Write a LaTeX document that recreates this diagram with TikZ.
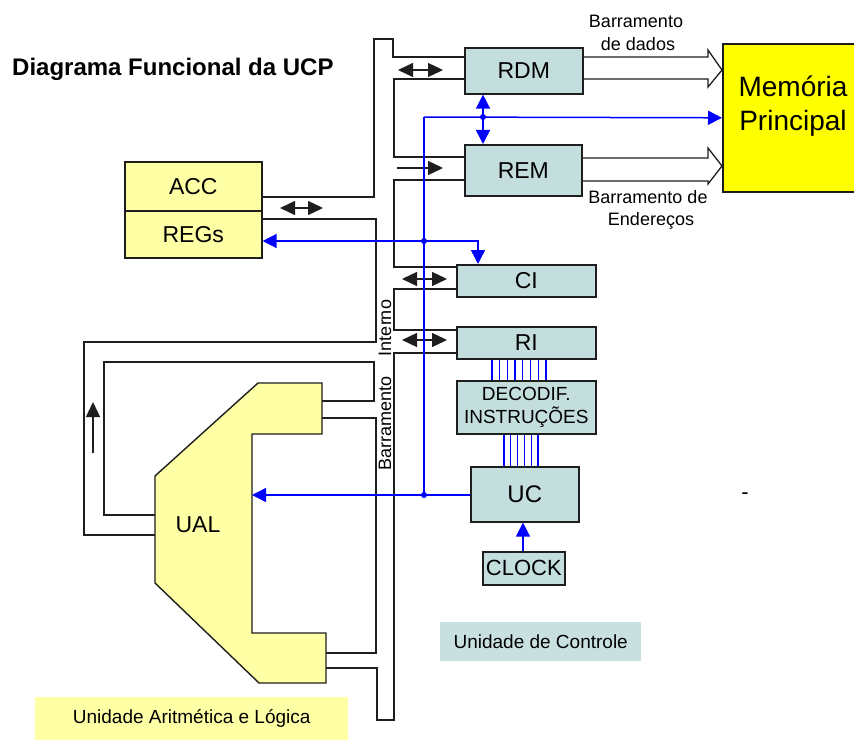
\documentclass[tikz,border=0pt]{standalone}
\usepackage{fontspec}
\setmainfont{Liberation Sans}
\usetikzlibrary{arrows.meta}
\definecolor{regfill}{RGB}{196,222,222}
\definecolor{ylw}{RGB}{255,255,166}
\definecolor{lblue}{RGB}{200,224,224}
\definecolor{memy}{RGB}{255,255,0}
\definecolor{ln}{RGB}{30,30,30}
\newcommand{\fsz}[1]{\fontsize{#1}{#1}\selectfont}
\begin{document}
\begin{tikzpicture}[x=1pt,y=-1pt,
  reg/.style={draw=ln, line width=1.6pt, fill=regfill, inner sep=0pt, anchor=north west, font=\fsz{23}},
  pipe/.style={draw=ln, line width=1.3pt, line join=miter},
  bl/.style={draw=blue, line width=1.5pt},
  blarrow/.style={bl, -{Triangle[length=14pt,width=14pt]}},
  bldouble/.style={bl, {Triangle[length=14pt,width=14pt]}-{Triangle[length=14pt,width=14pt]}},
  bkarrow/.style={draw=ln, line width=1.3pt, -{Triangle[length=15pt,width=14pt]}},
  bkdouble/.style={draw=ln, line width=1.3pt, {Triangle[length=15pt,width=14pt]}-{Triangle[length=15pt,width=14pt]}},
  lbl/.style={inner sep=0pt, font=\fsz{18}},
  dot/.style={fill=blue}
]
\path[use as bounding box] (0,0) rectangle (854,741);
\clip (0,0) rectangle (854,741);
\fill[white] (0,0) rectangle (854,741);

% title
\node[font=\fsz{24}\bfseries, anchor=west, inner sep=0pt] (title) at (12,69) {Diagrama Funcional da UCP};

% label boxes
\node[fill=ylw, minimum width=313pt, minimum height=43pt, anchor=north west, inner sep=0pt, font=\fsz{19}] (lblual) at (35,697) {Unidade Aritmética e Lógica};
\node[fill=lblue, minimum width=201pt, minimum height=39pt, anchor=north west, inner sep=0pt, font=\fsz{19}] (lbluc) at (440,622) {Unidade de Controle};

% internal bus pipes
\draw[pipe] (261,197) -- (374,197) -- (374,39) -- (393,39) -- (393,57) -- (464,57);
\draw[pipe] (464,79) -- (394,79) -- (394,157) -- (464,157);
\draw[pipe] (464,180) -- (394,180) -- (394,267) -- (456,267);
\draw[pipe] (456,289) -- (394,289) -- (394,330) -- (456,330);
\draw[pipe] (456,353) -- (394,353) -- (394,720) -- (377,720) -- (377,668) -- (326,668);
\draw[pipe] (326,653) -- (376,653) -- (376,418) -- (322,418);
\draw[pipe] (322,401) -- (374,401) -- (374,362) -- (104,362) -- (104,515) -- (155,515);
\draw[pipe] (155,535) -- (84,535) -- (84,342) -- (376,342) -- (376,219) -- (261,219);

% external buses
\draw[pipe] (582,57) -- (708,57) -- (708,50) -- (722,70) -- (708,87) -- (708,79) -- (582,79);
\draw[pipe] (581,158) -- (708,158) -- (708,148) -- (722,166) -- (708,184) -- (708,181) -- (581,181);

% memory
\node[draw=ln, line width=1.6pt, fill=memy, minimum width=150pt, minimum height=148pt, anchor=north west, inner sep=0pt] (mem) at (722,43) {};
\node[font=\fontsize{28}{34}\selectfont, align=center, inner sep=0pt] (memtxt) at (793,106) {Memória\\Principal};

% bus labels
\node[lbl, anchor=base] (bd1) at (636,28) {Barramento};
\node[lbl, anchor=base] (bd2) at (638,51) {de dados};
\node[lbl, anchor=base] (be1) at (648,203) {Barramento de};
\node[lbl, anchor=base] (be2) at (651,225) {Endereços};
\node[lbl, rotate=90] (bi1) at (385,423) {Barramento};
\node[lbl, rotate=90] (bi2) at (385,328) {Interno};

% registers
\node[reg, minimum width=118pt, minimum height=46pt] (rdm) at (464,47) {RDM};
\node[reg, minimum width=117pt, minimum height=51pt] (rem) at (464,144) {REM};
\node[reg, minimum width=139pt, minimum height=32pt] (ci) at (456,264) {CI};
\node[reg, minimum width=139pt, minimum height=32pt] (ri) at (456,326) {RI};
\node[reg, minimum width=139pt, minimum height=53pt, font=\fontsize{19}{23}\selectfont, align=center] (dec) at (456,380) {DECODIF.\\INSTRUÇÕES};
\node[reg, minimum width=108pt, minimum height=55pt, font=\fsz{24}] (uc) at (470,466) {UC};
\node[reg, minimum width=82pt, minimum height=33pt, font=\fsz{22}] (clock) at (482,551) {CLOCK};
\node[reg, fill=ylw, minimum width=137pt, minimum height=49pt, font=\fsz{23}] (acc) at (124,161) {ACC};
\node[reg, fill=ylw, minimum width=137pt, minimum height=47pt, font=\fsz{23}] (regs) at (124,210) {REGs};

% UAL
\draw[draw=ln, line width=1.4pt, fill=ylw] (258,383) -- (322,383) -- (322,434) -- (252,434) -- (252,633) -- (326,633) -- (326,683) -- (259,683) -- (155,583) -- (155,476) -- cycle;
\node[font=\fsz{23}, inner sep=0pt] (ual) at (198,525) {UAL};
\coordinate (ualin) at (252,495);

% black arrows
\draw[bkdouble] (398,70) -- (443,70);
\draw[bkarrow] (397,168) -- (443,168);
\draw[bkdouble] (280,208) -- (323,208);
\draw[bkdouble] (402,279) -- (447,279);
\draw[bkdouble] (402,340) -- (447,340);
\draw[bkarrow] (93,453) -- (93,402);

% blue control lines
\draw[bl] (424,495) -- (424,117);
\draw[blarrow] (424,117) -- (mem.west);
\draw[bldouble] (rdm.south -| 483,0) -- (rem.north -| 483,0);
\draw[bldouble] (regs.east |- 0,241) -- (478,241) -- (ci.north -| 478,0);
\draw[blarrow] (uc.west |- 0,495) -- (ualin);
\draw[blarrow] (clock.north -| 523,0) -- (uc.south -| 523,0);
\foreach \i in {0,...,7} {
  \draw[draw=blue, line width=1.3pt] (ri.south -| {492+\i*7.7},0) -- (dec.north -| {492+\i*7.7},0);
}
\foreach \i in {0,...,5} {
  \draw[draw=blue, line width=1.3pt] (dec.south -| {504+\i*6.8},0) -- (uc.north -| {504+\i*6.8},0);
}
\fill[dot] (483,117) circle (3pt);
\fill[dot] (424,241) circle (3pt);
\fill[dot] (424,495) circle (3pt);

% stray dash
\node[font=\fsz{22}, inner sep=0pt] (dash) at (745,496) {-};
\end{tikzpicture}
\end{document}
